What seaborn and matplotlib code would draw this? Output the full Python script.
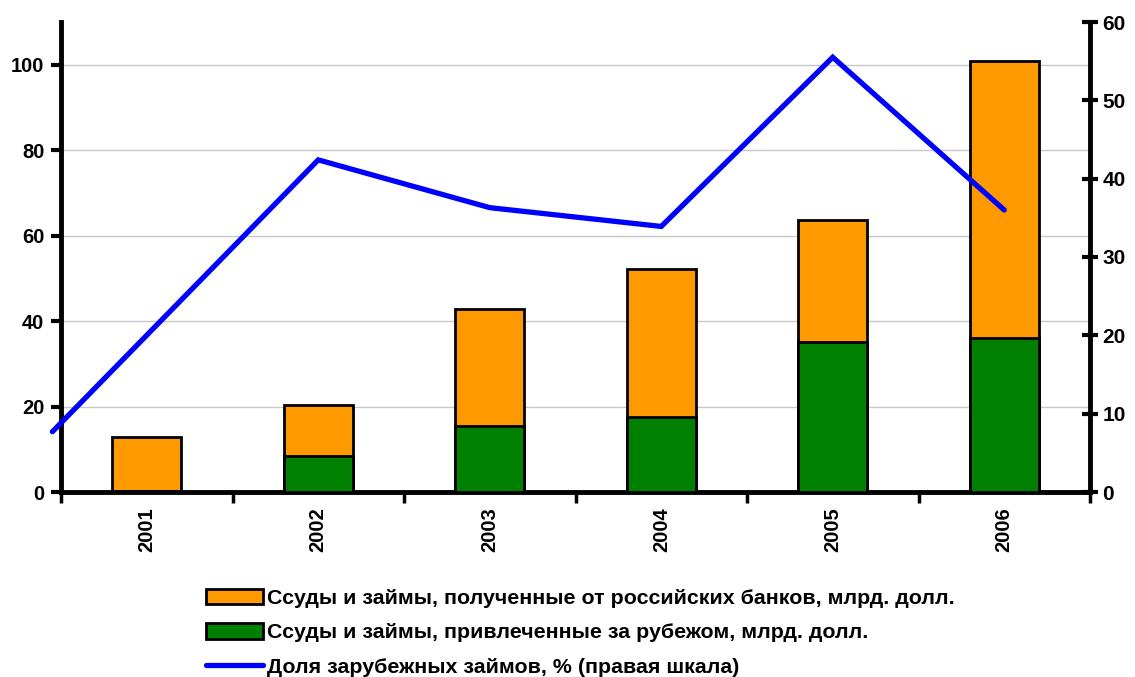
import numpy as np
import pandas as pd
import matplotlib
matplotlib.use("Agg")
import matplotlib.pyplot as plt
from matplotlib.patches import Patch
from matplotlib.lines import Line2D
from matplotlib.ticker import MultipleLocator, FixedLocator
import seaborn as sns

# Loans to Russian companies, bn USD, and share of foreign borrowing, %
years = ["2001", "2002", "2003", "2004", "2005", "2006"]
total_loans = [12.9, 20.4, 42.8, 52.3, 63.7, 100.9]
foreign_loans = [0.3, 8.4, 15.5, 17.5, 35.1, 36.1]
foreign_share = [7.7, 42.4, 36.3, 33.9, 55.5, 36.0]

label_domestic = "Ссуды и займы, полученные от российских банков, млрд. долл."
label_foreign = "Ссуды и займы, привлеченные за рубежом, млрд. долл."
label_share = "Доля зарубежных займов, % (правая шкала)"

ORANGE = "#FF9900"
GREEN = "#008000"
BLUE = "#0000FF"

sns.set_theme(style="white")
plt.rcParams["font.family"] = ["Liberation Sans", "DejaVu Sans"]
plt.rcParams["font.weight"] = "bold"
plt.rcParams["text.color"] = "black"
plt.rcParams["xtick.color"] = "black"
plt.rcParams["ytick.color"] = "black"
plt.rcParams["xtick.labelcolor"] = "black"
plt.rcParams["ytick.labelcolor"] = "black"

df = pd.DataFrame({"year": years, "total": total_loans, "foreign": foreign_loans})

fig = plt.figure(figsize=(11.35, 6.77), dpi=100)
ax = fig.add_axes([61 / 1135, 1 - 492 / 677, (1090 - 61) / 1135, (492 - 22) / 677])

# stacked bars: total in orange, foreign part drawn over it in green
sns.barplot(data=df, x="year", y="total", color=ORANGE, width=0.4,
            edgecolor="black", linewidth=2, saturation=1, ax=ax, zorder=2)
sns.barplot(data=df, x="year", y="foreign", color=GREEN, width=0.4,
            edgecolor="black", linewidth=2, saturation=1, ax=ax, zorder=3)

ax.set_xlim(-0.5, 5.5)
ax.set_ylim(0, 110)
ax.yaxis.set_major_locator(FixedLocator([0, 20, 40, 60, 80, 100]))
ax.yaxis.grid(True, color="#C8C8C8", linewidth=1)
ax.set_axisbelow(True)
ax.set_xlabel("")
ax.set_ylabel("")

for side in ["left", "bottom"]:
    ax.spines[side].set_linewidth(3.5)
    ax.spines[side].set_color("black")
for side in ["top", "right"]:
    ax.spines[side].set_visible(False)

ax.tick_params(axis="y", which="major", direction="out", length=7, width=3,
               labelsize=14.5, pad=5, left=True, color="black")
ax.tick_params(axis="x", which="major", length=0, labelsize=14.5, pad=11,
               labelrotation=90)
ax.xaxis.set_minor_locator(FixedLocator(np.arange(-0.5, 6, 1.0)))
ax.tick_params(axis="x", which="minor", direction="out", length=8, width=2.5,
               bottom=True, color="black")
for lbl in ax.get_xticklabels() + ax.get_yticklabels():
    lbl.set_fontweight("bold")

# share of foreign borrowing on the right scale
ax2 = ax.twinx()
line_x = np.arange(len(years), dtype=float)
line_x[0] = -0.55  # first point sits at the left edge of the plot
sns.lineplot(x=line_x, y=foreign_share, color=BLUE, linewidth=3.8, ax=ax2,
             zorder=4, solid_joinstyle="miter", clip_on=False)
ax2.set_ylim(0, 60)
ax2.set_xlim(-0.5, 5.5)
ax2.yaxis.set_major_locator(MultipleLocator(10))
for side in ["top", "left", "bottom"]:
    ax2.spines[side].set_visible(False)
ax2.spines["right"].set_linewidth(3.5)
ax2.spines["right"].set_color("black")
ax2.tick_params(axis="y", direction="inout", length=12, width=3, labelsize=15,
                pad=3, right=True, color="black")
for lbl in ax2.get_yticklabels():
    lbl.set_fontweight("bold")
ax2.grid(False)

handles = [
    Patch(facecolor=ORANGE, edgecolor="black", linewidth=2, label=label_domestic),
    Patch(facecolor=GREEN, edgecolor="black", linewidth=2, label=label_foreign),
    Line2D([0], [0], color=BLUE, linewidth=3.8, label=label_share),
]
fig.legend(handles=handles, loc="upper left", bbox_to_anchor=(195 / 1135, 1 - 578 / 677),
           frameon=False, prop={"size": 15.4, "weight": "bold"},
           handlelength=2.7, handleheight=0.75, handletextpad=0.15,
           labelspacing=0.7, borderpad=0)

fig.savefig("out.png", dpi=100)
